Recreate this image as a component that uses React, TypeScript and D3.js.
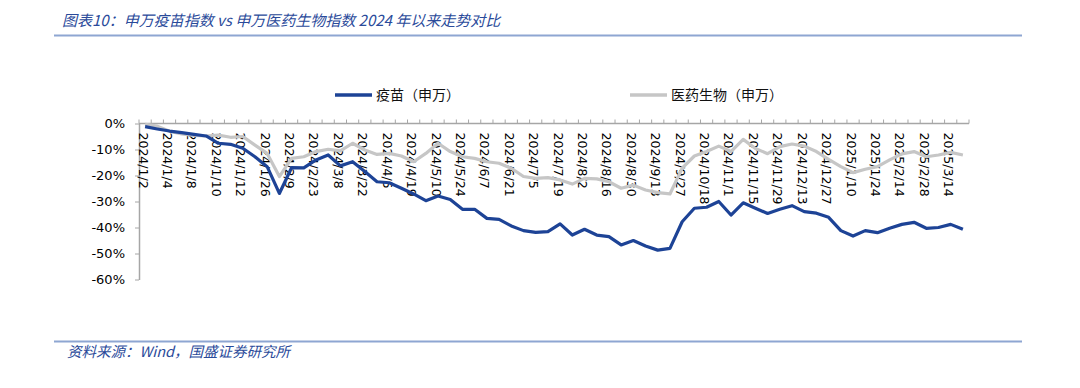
import { useEffect, useRef } from 'react';
import * as d3 from 'd3';

// 周度数据：类目（日期），每隔一个显示标签
const dates = [
  '2024/1/2', '2024/1/3', '2024/1/4', '2024/1/5', '2024/1/8', '2024/1/9', '2024/1/10', '2024/1/11',
  '2024/1/12', '2024/1/19', '2024/1/26', '2024/2/2', '2024/2/9', '2024/2/16', '2024/2/23', '2024/3/1',
  '2024/3/8', '2024/3/15', '2024/3/22', '2024/3/29', '2024/4/5', '2024/4/12', '2024/4/19', '2024/4/26',
  '2024/5/10', '2024/5/17', '2024/5/24', '2024/5/31', '2024/6/7', '2024/6/14', '2024/6/21', '2024/6/28',
  '2024/7/5', '2024/7/12', '2024/7/19', '2024/7/26', '2024/8/2', '2024/8/9', '2024/8/16', '2024/8/23',
  '2024/8/30', '2024/9/6', '2024/9/13', '2024/9/20', '2024/9/27', '2024/10/11', '2024/10/18', '2024/10/25',
  '2024/11/1', '2024/11/8', '2024/11/15', '2024/11/22', '2024/11/29', '2024/12/6', '2024/12/13', '2024/12/20',
  '2024/12/27', '2025/1/3', '2025/1/10', '2025/1/17', '2025/1/24', '2025/2/7', '2025/2/14', '2025/2/21',
  '2025/2/28', '2025/3/7', '2025/3/14', '2025/3/21',
];

// 疫苗（申万）累计涨跌幅 %
const vaccine = [
  -1.2, -2.1, -2.9, -3.5, -4.2, -4.8, -7.6, -8.0, -9.5, -12.8, -16.6, -26.9, -17.0, -17.1, -14.0, -12.1,
  -16.3, -14.7, -18.5, -22.4, -22.8, -24.9, -27.1, -29.7, -27.9, -29.2, -33.0, -33.0, -36.5, -36.9, -39.4, -41.2,
  -41.9, -41.6, -38.6, -42.9, -40.7, -42.9, -43.5, -46.7, -45.0, -47.1, -48.7, -48.0, -37.8, -32.6, -32.2, -30.0,
  -35.2, -30.5, -32.6, -34.6, -33.0, -31.6, -33.9, -34.5, -36.1, -41.2, -43.3, -41.2, -42.0, -40.3, -38.8, -38.0,
  -40.3, -40.0, -38.8, -40.7,
];

// 医药生物（申万）累计涨跌幅 %
const pharma = [
  -0.3, -1.0, -3.0, -4.0, -4.6, -4.8, -4.5, -5.3, -5.0, -8.3, -11.5, -20.4, -13.4, -12.8, -10.8, -9.9,
  -10.5, -7.6, -10.2, -11.9, -11.5, -12.5, -14.7, -11.5, -7.6, -10.8, -12.8, -13.4, -14.7, -15.3, -17.2, -20.4,
  -21.1, -20.8, -21.7, -23.3, -21.1, -21.3, -22.4, -24.9, -23.7, -25.6, -26.6, -27.1, -17.2, -12.5, -10.8, -8.7,
  -10.8, -6.1, -9.6, -11.6, -8.9, -7.9, -8.7, -10.8, -13.8, -16.6, -18.9, -17.6, -16.6, -14.0, -11.7, -10.8,
  -12.8, -12.1, -11.1, -12.1,
];

const yTicks = [0, -10, -20, -30, -40, -50, -60];

const seriesNames = ['疫苗（申万）', '医药生物（申万）'];
const seriesColors = ['#1d4396', '#c6c6c6'];

const W = 1080;
const H = 388;
const CJK = '"Noto Sans CJK SC", sans-serif';
const LATIN = '"DejaVu Sans", Verdana, sans-serif';

export default function App() {
  const svgRef = useRef<SVGSVGElement>(null);

  useEffect(() => {
    document.body.style.margin = '0';
    if (!svgRef.current) return;
    const svg = d3.select(svgRef.current);
    svg.selectAll('*').remove();

    const left = 139, right = 969, top = 123.5, bottom = 279.5;

    const x = d3.scaleBand<string>().domain(dates).range([left, right]).paddingInner(0).paddingOuter(0);
    const y = d3.scaleLinear().domain([-60, 0]).range([bottom, top]);
    const cx = (d: string) => (x(d) as number) + x.bandwidth() / 2;

    // 标题与分隔线
    svg.append('text')
      .attr('x', 62).attr('y', 26)
      .attr('font-family', CJK).attr('font-size', 15).attr('font-style', 'italic')
      .attr('fill', '#2a4a9a')
      .text('图表10：申万疫苗指数 vs 申万医药生物指数 2024 年以来走势对比');
    svg.append('line').attr('x1', 54).attr('x2', 1022).attr('y1', 35.5).attr('y2', 35.5)
      .attr('stroke', '#8ea6d2').attr('stroke-width', 2);
    svg.append('line').attr('x1', 54).attr('x2', 1022).attr('y1', 341.5).attr('y2', 341.5)
      .attr('stroke', '#8ea6d2').attr('stroke-width', 2);
    svg.append('text')
      .attr('x', 67).attr('y', 357)
      .attr('font-family', CJK).attr('font-size', 14.5).attr('font-style', 'italic')
      .attr('fill', '#2a4a9a')
      .text('资料来源：Wind，国盛证券研究所');

    // 图例
    const legendPos = [335, 630];
    seriesNames.forEach((name, i) => {
      const lx = legendPos[i];
      svg.append('line').attr('x1', lx).attr('x2', lx + 37).attr('y1', 95).attr('y2', 95)
        .attr('stroke', seriesColors[i]).attr('stroke-width', 3.5);
      svg.append('text').attr('x', lx + 41).attr('y', 100)
        .attr('font-family', CJK).attr('font-size', 14).attr('fill', '#111')
        .text(name);
    });

    const axisColor = '#a6a6a6';

    // Y轴
    const yAxis = svg.append('g')
      .attr('transform', `translate(${left},0)`)
      .call(d3.axisLeft(y).tickValues(yTicks).tickSize(4).tickSizeOuter(0).tickFormat(d => `${d}%`));
    yAxis.select('.domain').attr('stroke', axisColor).attr('stroke-width', 1.5);
    yAxis.selectAll('.tick line').attr('stroke', axisColor);
    yAxis.selectAll('.tick text')
      .attr('font-family', LATIN).attr('font-size', 13).attr('fill', '#000').attr('x', -14);

    // X轴（位于0%处，刻度朝上）
    svg.append('line').attr('x1', left).attr('x2', right).attr('y1', y(0)).attr('y2', y(0))
      .attr('stroke', axisColor).attr('stroke-width', 1.5);
    const bounds = dates.map(d => x(d) as number).concat([right]);
    svg.append('g').selectAll('line').data(bounds).enter().append('line')
      .attr('x1', d => d).attr('x2', d => d).attr('y1', y(0)).attr('y2', y(0) - 4)
      .attr('stroke', axisColor);
    svg.append('g').selectAll('text').data(dates.filter((_, i) => i % 2 === 0)).enter().append('text')
      .attr('transform', d => `translate(${cx(d) - 2},${y(0) + 9}) rotate(90)`)
      .attr('dominant-baseline', 'central')
      .attr('font-family', LATIN).attr('font-size', 12.5).attr('fill', '#000')
      .text(d => d);

    // 折线
    const line = d3.line<number>()
      .x((_, i) => cx(dates[i]))
      .y(d => y(d));

    [pharma, vaccine].forEach((vals, k) => {
      svg.append('path')
        .datum(vals)
        .attr('fill', 'none')
        .attr('stroke', k === 0 ? seriesColors[1] : seriesColors[0])
        .attr('stroke-width', 3.2)
        .attr('stroke-linejoin', 'round')
        .attr('d', line);
    });
  }, []);

  return <svg ref={svgRef} width={W} height={H} style={{ display: 'block', background: '#fff' }} />;
}
